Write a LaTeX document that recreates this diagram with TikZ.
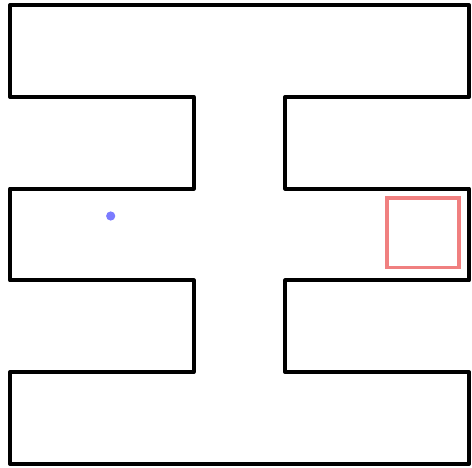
\documentclass[tikz,border=0pt]{standalone}
\definecolor{dotblue}{HTML}{7B7BFF}
\definecolor{goalred}{HTML}{F08080}
\begin{document}
\begin{tikzpicture}[x=1bp,y=-1bp,
  wall/.style={draw=black,line width=4bp,line join=round},
  goalbox/.style={draw=goalred,line width=3.5bp},
  agentdot/.style={fill=dotblue,draw=none}]
\useasboundingbox[fill=white] (0,0) rectangle (472,468);
\draw[wall] (10,5) -- (469,5) -- (469,96.8) -- (285.4,96.8) -- (285.4,188.6) -- (469,188.6)
  -- (469,280.4) -- (285.4,280.4) -- (285.4,372.2) -- (469,372.2) -- (469,464)
  -- (10,464) -- (10,372.2) -- (193.6,372.2) -- (193.6,280.4) -- (10,280.4)
  -- (10,188.6) -- (193.6,188.6) -- (193.6,96.8) -- (10,96.8) -- cycle;
\draw[goalbox] (386.8,197.8) rectangle (459.2,267.5);
\fill[agentdot] (110.7,216) circle (4.6);
\end{tikzpicture}
\end{document}
